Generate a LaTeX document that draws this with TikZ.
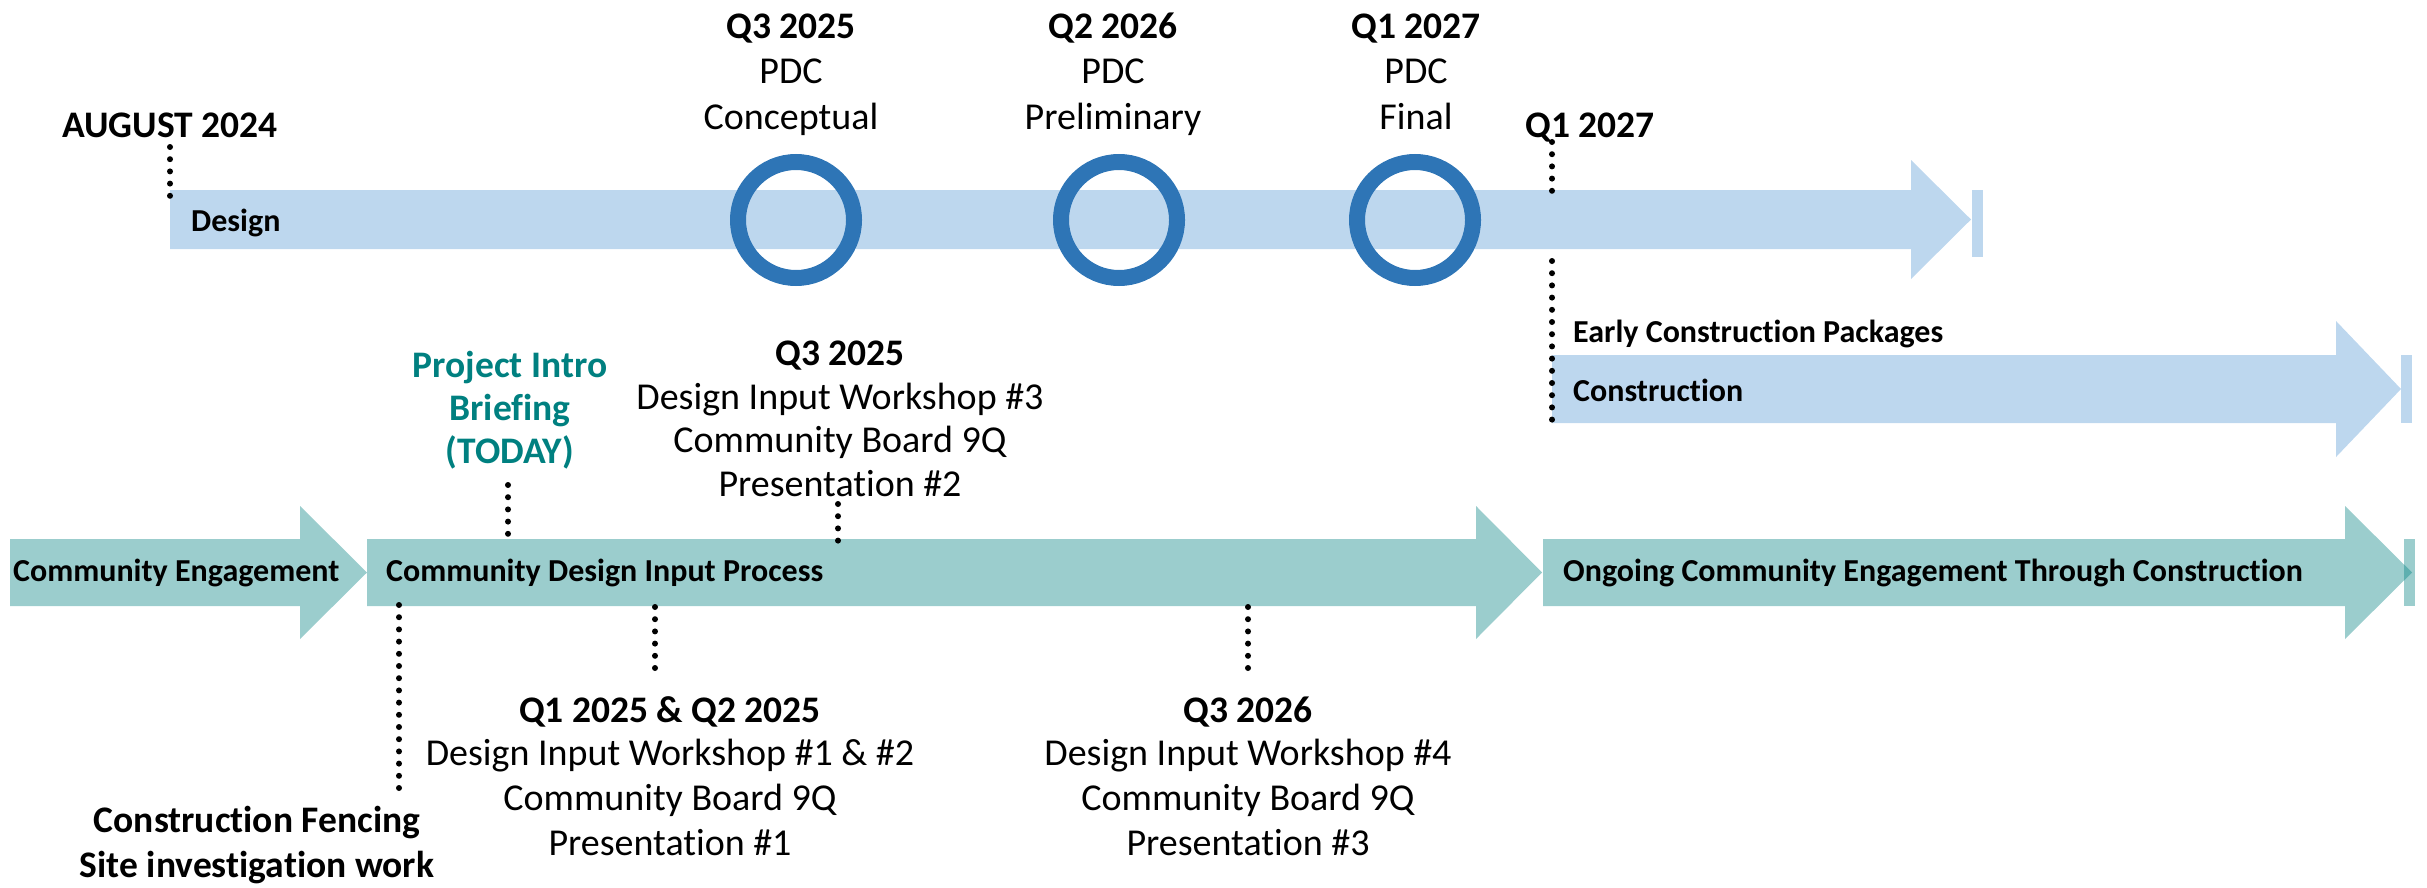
\documentclass[tikz,border=0pt]{standalone}
\usepackage{fontspec}
\setmainfont{Carlito}[RawFeature={-liga}]
\definecolor{lblue}{HTML}{BDD7EE}
\definecolor{ringblue}{HTML}{2E75B6}
\definecolor{tealA}{HTML}{9BCDCD}
\definecolor{tealB}{HTML}{5EAFAF}
\definecolor{tealtxt}{HTML}{008080}
\begin{document}
\begin{tikzpicture}[x=1pt,y=-1pt,
  lbl/.style={font=\fontsize{38}{45}\selectfont, inner sep=0pt, anchor=base},
  lblb/.style={lbl, font=\fontsize{37.5}{45}\selectfont\bfseries},
  arrlbl/.style={font=\fontsize{32}{38}\selectfont\bfseries, inner sep=0pt, anchor=base west},
  dotline/.style={line width=6pt, line cap=round, dash pattern=on 0pt off 12.2pt},
  ringst/.style={draw=ringblue, line width=16pt}]
\useasboundingbox (0,0) rectangle (2427,888);

% ---- Design arrow
\fill[lblue] (170,190) -- (1911,190) -- (1911,160) -- (1971,219.5) -- (1911,279) -- (1911,249) -- (170,249) -- cycle;
\fill[lblue] (1972,190) rectangle (1983,257);
% ---- Construction arrow
\fill[lblue] (1552,355) -- (2336,355) -- (2336,321) -- (2401,389) -- (2336,457) -- (2336,423) -- (1552,423) -- cycle;
\fill[lblue] (2401,355) rectangle (2412,423);
% ---- Community arrows
\fill[tealA] (10,539) -- (300,539) -- (300,506) -- (367,572.5) -- (300,639) -- (300,606) -- (10,606) -- cycle;
\fill[tealA] (367,539) -- (1476,539) -- (1476,506) -- (1542,572.5) -- (1476,639) -- (1476,606) -- (367,606) -- cycle;
\fill[tealA] (1543,539) -- (2345,539) -- (2345,506) -- (2412,572.5) -- (2345,639) -- (2345,606) -- (1543,606) -- cycle;
\fill[tealA] (2404,539) rectangle (2415,606);
\fill[tealB] (2404,564.5) -- (2412,572.5) -- (2404,580.5) -- cycle;

% ---- milestone rings
\draw[ringst] (796,220) circle (58);
\draw[ringst] (1119,220) circle (58);
\draw[ringst] (1415,220) circle (58);

% ---- top labels
\node[lblb] (aug) at (170,138) {AUGUST 2024};
\node[lblb] (q1r) at (1590,138) {Q1 2027};

\node[lblb] (m1a) at (791,39) {Q3 2025};
\node[lbl]  (m1b) at (791,84) {PDC};
\node[lbl]  (m1c) at (791,129) {Conceptual};
\node[lblb] (m2a) at (1113,39) {Q2 2026};
\node[lbl]  (m2b) at (1113,84) {PDC};
\node[lbl]  (m2c) at (1113,129) {Preliminary};
\node[lblb] (m3a) at (1416,39) {Q1 2027};
\node[lbl]  (m3b) at (1416,84) {PDC};
\node[lbl]  (m3c) at (1416,129) {Final};

% ---- arrow labels
\node[arrlbl] (design) at (191,231) {Design};
\node[arrlbl] (early) at (1573,342) {Early Construction Packages};
\node[arrlbl] (constr) at (1573,401) {Construction};
\node[arrlbl] (ce) at (13,581) {Community Engagement};
\node[arrlbl] (cdip) at (386,581) {Community Design Input Process};
\node[arrlbl] (ongo) at (1563,581) {Ongoing Community Engagement Through Construction};

% ---- middle labels
\node[lblb, text=tealtxt] (pi1) at (510,377) {Project Intro};
\node[lblb, text=tealtxt] (pi2) at (510,420) {Briefing};
\node[lblb, text=tealtxt] (pi3) at (510,463) {(TODAY)};

\node[lblb] (w3a) at (840,365) {Q3 2025};
\node[lbl]  (w3b) at (840,409) {Design Input Workshop \#3};
\node[lbl]  (w3c) at (840,452) {Community Board 9Q};
\node[lbl]  (w3d) at (840,496) {Presentation \#2};

% ---- bottom labels
\node[lblb] (w1a) at (670,722) {Q1 2025 \& Q2 2025};
\node[lbl]  (w1b) at (670,765) {Design Input Workshop \#1 \& \#2};
\node[lbl]  (w1c) at (670,810) {Community Board 9Q};
\node[lbl]  (w1d) at (670,855) {Presentation \#1};

\node[lblb] (w4a) at (1248,722) {Q3 2026};
\node[lbl]  (w4b) at (1248,765) {Design Input Workshop \#4};
\node[lbl]  (w4c) at (1248,810) {Community Board 9Q};
\node[lbl]  (w4d) at (1248,855) {Presentation \#3};

\node[lblb] (cf1) at (257,832) {Construction Fencing};
\node[lblb] (cf2) at (257,877) {Site investigation work};

% ---- dotted connectors
\coordinate (dAug) at (170,196);
\coordinate (dQa) at (1552,191);
\coordinate (dQb) at (1552,261);
\coordinate (dQc) at (1552,420);
\coordinate (dPI) at (508,534);
\coordinate (dW3) at (838,541);
\coordinate (dCF) at (399,605);
\coordinate (dW1) at (655,607);
\coordinate (dW4) at (1248,607);

\draw[dotline] ([yshift=-9pt]aug.base) -- (dAug);
\draw[dotline] ([xshift=-38pt,yshift=-4pt]q1r.base) -- (dQa);
\draw[dotline] (dQb) -- (dQc);
\draw[dotline] ([xshift=-2pt,yshift=-22pt]pi3.base) -- (dPI);
\draw[dotline] ([xshift=-2pt,yshift=-8pt]w3d.base) -- (dW3);
\draw[dotline] (dCF) -- ([xshift=142pt,yshift=42pt]cf1.base);
\draw[dotline] (dW1) -- ([xshift=-15pt,yshift=54pt]w1a.base);
\draw[dotline] (dW4) -- ([yshift=54pt]w4a.base);
\end{tikzpicture}
\end{document}
